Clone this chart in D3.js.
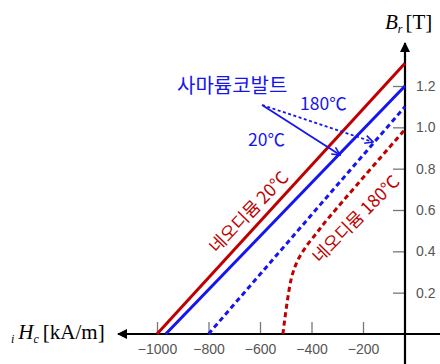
<!DOCTYPE html>
<html>
<head>
<meta charset="utf-8">
<script src="https://cdn.jsdelivr.net/npm/d3@7"></script>
<style>
  body { margin: 0; background: #fff; }
  svg { display: block; }
</style>
</head>
<body>
<script>
var W = 440, H = 364;
var RED = "#c00000", BLUE = "#1515f0";

// tick values
var hTicks = [-1000, -800, -600, -400, -200];
var bTicks = [0.2, 0.4, 0.6, 0.8, 1.0, 1.2];

// demagnetization curves  [H (kA/m), B (T)]
var nd20 = [[-1000, 0], [0, 1.31]];
var smco20 = [[-966, 0], [0, 1.20]];
var smco180 = [[-800, 0], [0, 1.10]];
var nd180 = [[-511, 0], [-495, 0.15], [-476, 0.28], [-452, 0.36], [-417, 0.43],
             [-379, 0.49], [-348, 0.54], [0, 0.99]];

var svg = d3.select("body").append("svg")
            .attr("width", W)
            .attr("height", H);

var defs = svg.append("defs");
function marker(id, color, w, h) {
  defs.append("marker")
      .attr("id", id)
      .attr("viewBox", "0 0 10 10")
      .attr("refX", 9).attr("refY", 5)
      .attr("markerUnits", "userSpaceOnUse")
      .attr("markerWidth", w).attr("markerHeight", h)
      .attr("orient", "auto")
      .append("path")
      .attr("d", "M0,0 L10,5 L0,10 Z")
      .attr("fill", color);
}
marker("axisArrow", "#000", 13, 10);
function openArrow(id, color) {
  defs.append("marker")
      .attr("id", id)
      .attr("viewBox", "0 0 10 10")
      .attr("refX", 9).attr("refY", 5)
      .attr("markerUnits", "userSpaceOnUse")
      .attr("markerWidth", 10).attr("markerHeight", 10)
      .attr("orient", "auto")
      .append("path")
      .attr("d", "M1,1 L9,5 L1,9")
      .attr("fill", "none")
      .attr("stroke", color)
      .attr("stroke-width", 1.6);
}
openArrow("blueArrow", BLUE);

// scales (the picture's axis is a bit squeezed between -200 and 0)
var x = d3.scaleLinear().domain([-1000, -200, 0]).range([157, 363, 405]);
var y = d3.scaleLinear().domain([0, 1.2]).range([334, 86]);

// ticks
var xAxis = svg.append("g")
   .attr("transform", "translate(0," + y(0) + ")")
   .call(d3.axisBottom(x).tickValues(hTicks).tickSize(-12).tickPadding(10)
           .tickFormat(d3.format("d")));
var yAxis = svg.append("g")
   .attr("transform", "translate(" + x(0) + ",0)")
   .call(d3.axisRight(y).tickValues(bTicks).tickSize(-12).tickPadding(11)
           .tickFormat(d3.format(".1f")));
[xAxis, yAxis].forEach(function(g) {
  g.select(".domain").remove();
  g.selectAll(".tick line").attr("stroke", "#777").attr("stroke-width", 1.3);
  g.selectAll(".tick text")
   .attr("fill", "#555")
   .style("font-family", "'Liberation Sans', Arial, sans-serif")
   .style("font-size", "14px");
});

// axis lines with arrows
svg.append("line")
   .attr("x1", W).attr("y1", y(0))
   .attr("x2", 118).attr("y2", y(0))
   .attr("stroke", "#000").attr("stroke-width", 2.2)
   .attr("marker-end", "url(#axisArrow)");
svg.append("line")
   .attr("x1", x(0)).attr("y1", H)
   .attr("x2", x(0)).attr("y2", 43)
   .attr("stroke", "#000").attr("stroke-width", 2.2)
   .attr("marker-end", "url(#axisArrow)");

// curves
var line = d3.line()
             .x(function(d) { return x(d[0]); })
             .y(function(d) { return y(d[1]); });
var lineCurve = d3.line()
             .x(function(d) { return x(d[0]); })
             .y(function(d) { return y(d[1]); })
             .curve(d3.curveCatmullRom);

var curves = [
  {data: nd20, color: RED, dash: null, gen: line},
  {data: smco20, color: BLUE, dash: null, gen: line},
  {data: smco180, color: BLUE, dash: "5,3.5", gen: line},
  {data: nd180, color: RED, dash: "5,3.5", gen: lineCurve}
];
svg.selectAll("path.curve")
   .data(curves)
   .enter()
   .append("path")
   .attr("class", "curve")
   .attr("d", function(d) { return d.gen(d.data); })
   .attr("fill", "none")
   .attr("stroke", function(d) { return d.color; })
   .attr("stroke-width", 3)
   .attr("stroke-dasharray", function(d) { return d.dash; });

// samarium-cobalt pointers
var pointerStart = [-592, 1.108];
svg.append("line")
   .attr("x1", x(pointerStart[0])).attr("y1", y(pointerStart[1]))
   .attr("x2", x(-289)).attr("y2", y(0.866))
   .attr("stroke", BLUE).attr("stroke-width", 1.8)
   .attr("marker-end", "url(#blueArrow)");
svg.append("line")
   .attr("x1", x(pointerStart[0])).attr("y1", y(pointerStart[1]))
   .attr("x2", x(-152)).attr("y2", y(0.929))
   .attr("stroke", BLUE).attr("stroke-width", 1.8)
   .attr("stroke-dasharray", "3,2.5")
   .attr("marker-end", "url(#blueArrow)");

var kfont = "'Noto Sans CJK KR', 'Noto Sans', sans-serif";
svg.append("text")
   .attr("x", 177).attr("y", 93)
   .attr("fill", BLUE)
   .style("font-family", kfont).style("font-size", "20px")
   .text("사마륨코발트");
svg.append("text")
   .attr("x", 300).attr("y", 110)
   .attr("fill", BLUE)
   .style("font-family", kfont).style("font-size", "17.5px")
   .text("180℃");
svg.append("text")
   .attr("x", 248).attr("y", 146)
   .attr("fill", BLUE)
   .style("font-family", kfont).style("font-size", "17.5px")
   .text("20℃");

// rotated neodymium labels
svg.append("text")
   .attr("transform", "translate(249,212) rotate(-46)")
   .attr("text-anchor", "middle").attr("dy", "0.35em")
   .attr("fill", RED)
   .style("font-family", kfont).style("font-size", "17.5px")
   .text("네오디뮴 20℃");
svg.append("text")
   .attr("transform", "translate(356,219) rotate(-45)")
   .attr("text-anchor", "middle").attr("dy", "0.35em")
   .attr("fill", RED)
   .style("font-family", kfont).style("font-size", "17.5px")
   .text("네오디뮴 180℃");

// axis titles
var serif = "'Liberation Serif', 'Times New Roman', serif";
var hLab = svg.append("text")
   .attr("x", 11).attr("y", 339)
   .style("font-family", serif).style("font-size", "21px");
hLab.append("tspan").attr("font-style", "italic").attr("font-size", "12px").attr("dy", 4).text("i");
hLab.append("tspan").attr("font-style", "italic").attr("dx", 4).attr("dy", -4).text("H");
hLab.append("tspan").attr("font-style", "italic").attr("font-size", "12px").attr("dy", 4).text("c");
hLab.append("tspan").attr("dx", 4).attr("dy", -4).text("[kA/m]");

var bLab = svg.append("text")
   .attr("x", 385).attr("y", 29)
   .style("font-family", serif).style("font-size", "21px");
bLab.append("tspan").attr("font-style", "italic").text("B");
bLab.append("tspan").attr("font-style", "italic").attr("font-size", "12px").attr("dy", 4).text("r");
bLab.append("tspan").attr("dx", 3).attr("dy", -4).text("[T]");
</script>
</body>
</html>
